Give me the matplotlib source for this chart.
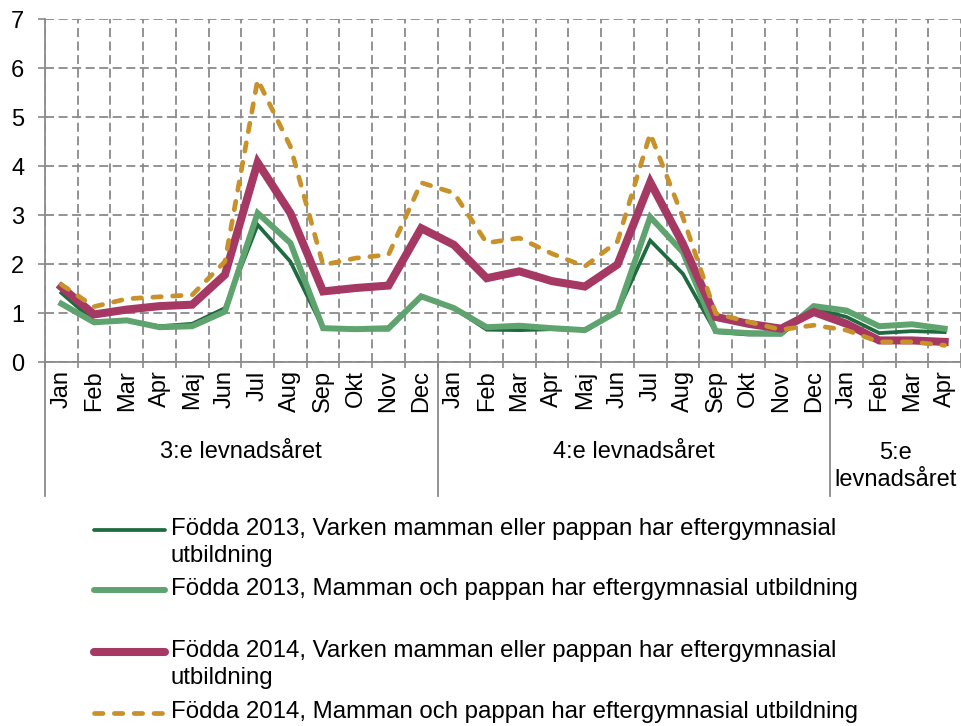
import matplotlib
matplotlib.use("Agg")
import matplotlib.pyplot as plt
import matplotlib.transforms as mtransforms
from matplotlib.lines import Line2D
import numpy as np

plt.rcParams['font.family'] = ['Liberation Sans', 'DejaVu Sans']

months = ["Jan", "Feb", "Mar", "Apr", "Maj", "Jun", "Jul", "Aug", "Sep", "Okt", "Nov", "Dec",
          "Jan", "Feb", "Mar", "Apr", "Maj", "Jun", "Jul", "Aug", "Sep", "Okt", "Nov", "Dec",
          "Jan", "Feb", "Mar", "Apr"]
groups = ["3:e levnadsåret", "4:e levnadsåret", "5:e\nlevnadsåret"]
group_sizes = [12, 12, 4]

names = [
    "Födda 2013, Varken mamman eller pappan har eftergymnasial\nutbildning",
    "Födda 2013, Mamman och pappan har eftergymnasial utbildning",
    "Födda 2014, Varken mamman eller pappan har eftergymnasial\nutbildning",
    "Födda 2014, Mamman och pappan har eftergymnasial utbildning",
]

f2013_varken = [1.41, 0.83, 0.85, 0.73, 0.78, 1.10, 2.80, 2.05, 0.69, 0.67, 0.66, 1.34,
                1.10, 0.66, 0.65, 0.67, 0.65, 1.03, 2.48, 1.80, 0.61, 0.56, 0.56, 1.09,
                0.92, 0.59, 0.63, 0.61]
f2013_efter = [1.19, 0.81, 0.85, 0.71, 0.73, 1.03, 3.04, 2.43, 0.69, 0.67, 0.69, 1.34,
               1.10, 0.71, 0.74, 0.69, 0.65, 1.03, 2.96, 2.24, 0.63, 0.59, 0.58, 1.14,
               1.05, 0.73, 0.77, 0.68]
f2014_varken = [1.53, 0.97, 1.07, 1.14, 1.17, 1.78, 4.07, 3.04, 1.44, 1.51, 1.56, 2.73,
                2.39, 1.71, 1.85, 1.65, 1.54, 1.99, 3.67, 2.41, 0.92, 0.78, 0.68, 1.02,
                0.78, 0.44, 0.44, 0.41]
f2014_efter = [1.58, 1.13, 1.29, 1.33, 1.37, 2.05, 5.76, 4.40, 1.98, 2.12, 2.19, 3.66,
               3.45, 2.43, 2.53, 2.21, 1.95, 2.46, 4.66, 2.95, 0.99, 0.82, 0.66, 0.75,
               0.65, 0.41, 0.41, 0.34]

series = [f2013_varken, f2013_efter, f2014_varken, f2014_efter]
colors = ["#1d6b3e", "#5fa36e", "#a63864", "#c8912a"]
widths = [2.7, 4.3, 5.8, 3.4]
styles = ["-", "-", "-", (0, (1.8, 2.4))]

W, H = 962, 726
fig = plt.figure(figsize=(W / 100, H / 100), dpi=100)
ax = fig.add_axes([45 / W, 1 - 362 / H, (961 - 45) / W, (362 - 19) / H])

n = len(months)
x = np.arange(n) + 0.5
for vals, c, lw, ls in zip(series, colors, widths, styles):
    ax.plot(x, vals, color=c, lw=lw, ls=ls, solid_joinstyle='miter',
            dash_capstyle='round', zorder=3)

grid_c = "#8a8a8a"
ax.set_xlim(0, n)
ax.set_ylim(0, 7)
ax.set_yticks(range(0, 8))
ax.set_xticks(x)
ax.set_xticklabels(months, rotation=90, fontsize=17, va='top')
ax.set_xticks(np.arange(0, n + 1), minor=True)
ax.tick_params(axis='x', which='major', length=0, pad=6)
ax.tick_params(axis='x', which='minor', length=4, color=grid_c, width=1.2)
ax.tick_params(axis='y', length=5, color=grid_c, width=1.2, labelsize=17, pad=10)
ax.grid(axis='y', which='major', color=grid_c, ls=(0, (5, 2.5)), lw=1.3)
ax.grid(axis='x', which='minor', color=grid_c, ls=(0, (5, 2.5)), lw=1.3)
ax.grid(axis='x', which='major', visible=False)
for s in ['top', 'right']:
    ax.spines[s].set_visible(False)
for s in ['left', 'bottom']:
    ax.spines[s].set_color(grid_c)
    ax.spines[s].set_linewidth(1.3)

trans = mtransforms.blended_transform_factory(ax.transData, ax.transAxes)
bounds = np.concatenate([[0], np.cumsum(group_sizes)])
for b in bounds[:-1]:
    ax.plot([b, b], [0, -0.39], transform=trans, color=grid_c, lw=1.3, clip_on=False)
for i, g in enumerate(groups):
    cx = (bounds[i] + bounds[i + 1]) / 2
    cy = -0.262 if "\n" not in g else -0.305
    ax.text(cx, cy, g, transform=trans, ha='center', va='center', fontsize=17,
            linespacing=1.3)

# legend
leg_y = [530, 590, 652, 713]
for yy, name, c, lw, ls in zip(leg_y, names, colors, widths, styles):
    fy = 1 - yy / H
    fig.add_artist(Line2D([94 / W, 165 / W], [fy, fy], color=c, lw=lw, ls=ls,
                          dash_capstyle='round', solid_capstyle='round',
                          transform=fig.transFigure))
    fig.text(171 / W, 1 - (yy - 12) / H, name, ha='left', va='top', fontsize=17.3,
             linespacing=1.3)

fig.savefig("out.png", dpi=100)
